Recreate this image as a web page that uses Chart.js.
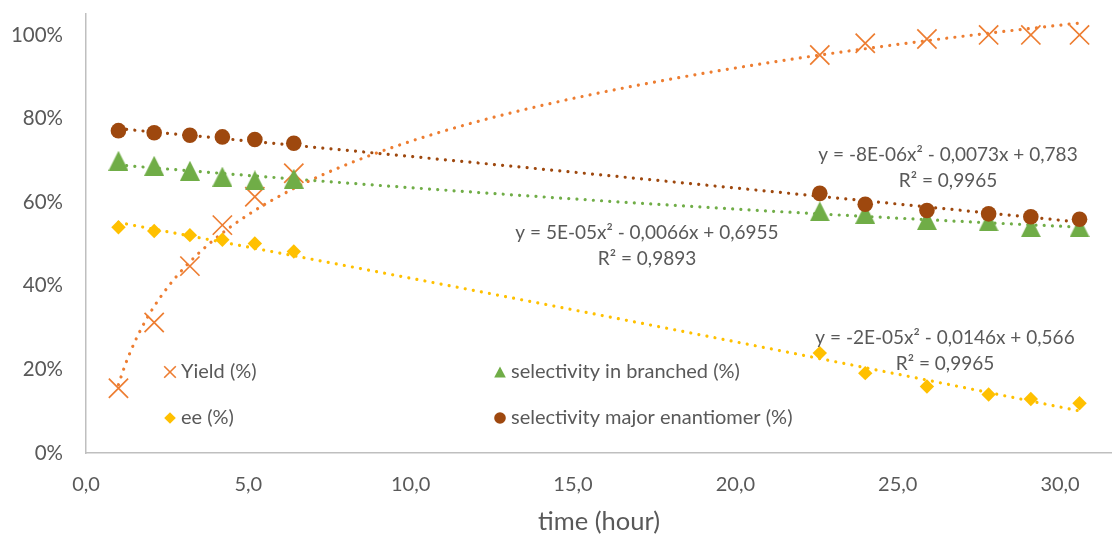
<!DOCTYPE html>
<html>
<head>
<meta charset="utf-8">
<script src="https://cdn.jsdelivr.net/npm/chart.js@4/dist/chart.umd.min.js"></script>
<style>
  html, body { margin: 0; padding: 0; background: #ffffff; }
  #c { display: block; }
</style>
</head>
<body>
<canvas id="c" width="1112" height="534"></canvas>
<script>
// Reaction monitoring: values in % against reaction time (hours)
const timeHours   = [1.0, 2.1, 3.2, 4.2, 5.2, 6.4, 22.6, 24.0, 25.9, 27.8, 29.1, 30.6];
const yieldPct    = [15.5, 31.2, 44.7, 54.5, 61.3, 66.9, 95.2, 98.0, 99.0, 100, 100, 100];
const branchedPct = [69.9, 68.7, 67.5, 66.1, 65.2, 65.6, 57.8, 57.2, 55.7, 55.4, 54.0, 54.0];
const eePct       = [54.0, 53.1, 52.1, 51.0, 50.1, 48.2, 23.9, 19.1, 15.9, 14.0, 12.9, 11.9];
const majorPct    = [77.1, 76.6, 76.0, 75.6, 75.0, 74.1, 62.1, 59.5, 58.0, 57.2, 56.5, 55.9];

const seriesNames = ['Yield (%)', 'selectivity in branched (%)', 'ee (%)', 'selectivity major enantiomer (%)'];
const xTicks = [0, 5, 10, 15, 20, 25, 30];
const yTicks = [0, 20, 40, 60, 80, 100];

// Quadratic trend lines, y (fraction) = c0 + c1*x + c2*x^2
const branchedFit = [0.6955, -0.0066, 5e-5];
const eeFit       = [0.566, -0.0146, -2e-5];
const majorFit    = [0.783, -0.0073, -8e-6];
const branchedEq  = ['y = 5E-05x\u00B2 - 0,0066x + 0,6955', 'R\u00B2 = 0,9893'];
const eeEq        = ['y = -2E-05x\u00B2 - 0,0146x + 0,566', 'R\u00B2 = 0,9965'];
const majorEq     = ['y = -8E-06x\u00B2 - 0,0073x + 0,783', 'R\u00B2 = 0,9965'];

const C_YIELD = '#ED7D31', C_BRANCH = '#70AD47', C_EE = '#FFC000', C_MAJOR = '#9E480E';
const TEXT = '#595959';
const FONT = 'Lato, "Open Sans", sans-serif';

const toPoints = (ys) => timeHours.map((t, i) => ({ x: t, y: ys[i] }));

// sample a fitted curve between the first and last time point
function sampleCurve(fn) {
  const a = timeHours[0], b = timeHours[timeHours.length - 1], n = 240;
  const pts = [];
  for (let i = 0; i <= n; i++) {
    const x = a + (b - a) * i / n;
    pts.push({ x, y: fn(x) * 100 });
  }
  return pts;
}
const quad = (c) => (x) => c[0] + c[1] * x + c[2] * x * x;

// logarithmic least-squares fit of the yield, y = a*ln(x) + b
function logFit(xs, ys) {
  const lx = xs.map(Math.log), fy = ys.map(v => v / 100);
  const n = xs.length;
  const mx = lx.reduce((s, v) => s + v, 0) / n;
  const my = fy.reduce((s, v) => s + v, 0) / n;
  let sxy = 0, sxx = 0;
  for (let i = 0; i < n; i++) { sxy += (lx[i] - mx) * (fy[i] - my); sxx += (lx[i] - mx) ** 2; }
  const a = sxy / sxx, b = my - a * mx;
  return (x) => a * Math.log(x) + b;
}

// triangle marker with its box centred on the point
function triangleImage(w, h, color) {
  const cv = document.createElement('canvas');
  cv.width = w; cv.height = h;
  const g = cv.getContext('2d');
  g.fillStyle = color;
  g.beginPath();
  g.moveTo(w / 2, 0);
  g.lineTo(w, h);
  g.lineTo(0, h);
  g.closePath();
  g.fill();
  return cv;
}

const trendStyle = (color) => ({
  showLine: true, pointRadius: 0, pointHoverRadius: 0, borderColor: color,
  borderWidth: 3.2, borderDash: [0.01, 8.2], borderCapStyle: 'round', fill: false, order: 10
});

// small markers for the in-plot legend
function legendMarker(ctx, kind, x, y) {
  ctx.save();
  if (kind === 'cross') {
    const d = 5.8;
    ctx.strokeStyle = C_YIELD; ctx.lineWidth = 1.6;
    ctx.beginPath();
    ctx.moveTo(x - d, y - d); ctx.lineTo(x + d, y + d);
    ctx.moveTo(x + d, y - d); ctx.lineTo(x - d, y + d);
    ctx.stroke();
  } else if (kind === 'triangle') {
    ctx.fillStyle = C_BRANCH;
    ctx.beginPath();
    ctx.moveTo(x, y - 5.5); ctx.lineTo(x + 5.8, y + 5.5); ctx.lineTo(x - 5.8, y + 5.5);
    ctx.closePath(); ctx.fill();
  } else if (kind === 'diamond') {
    const d = 5.8;
    ctx.fillStyle = C_EE;
    ctx.beginPath();
    ctx.moveTo(x, y - d); ctx.lineTo(x + d, y); ctx.lineTo(x, y + d); ctx.lineTo(x - d, y);
    ctx.closePath(); ctx.fill();
  } else {
    ctx.fillStyle = C_MAJOR;
    ctx.beginPath(); ctx.arc(x, y, 5.8, 0, Math.PI * 2); ctx.fill();
  }
  ctx.restore();
}

const overlay = {
  id: 'overlay',
  afterDatasetsDraw(chart) {
    const ctx = chart.ctx;
    ctx.save();
    ctx.fillStyle = TEXT;
    ctx.textBaseline = 'middle';

    // legend, two columns inside the plot
    ctx.font = '20px ' + FONT;
    const items = [
      { kind: 'cross',    name: seriesNames[0], x: 170, y: 372 },
      { kind: 'triangle', name: seriesNames[1], x: 500, y: 372 },
      { kind: 'diamond',  name: seriesNames[2], x: 170, y: 418 },
      { kind: 'circle',   name: seriesNames[3], x: 500, y: 418 }
    ];
    ctx.textAlign = 'left';
    items.forEach(it => {
      legendMarker(ctx, it.kind, it.x, it.y);
      ctx.fillStyle = TEXT;
      ctx.fillText(it.name, it.x + 11, it.y);
    });

    // trend line equations
    ctx.font = '19px ' + FONT;
    ctx.textAlign = 'center';
    const eqs = [
      { lines: majorEq,    x: 948, y: 155 },
      { lines: branchedEq, x: 647, y: 233 },
      { lines: eeEq,       x: 945, y: 338 }
    ];
    eqs.forEach(e => {
      ctx.fillText(e.lines[0], e.x, e.y);
      ctx.fillText(e.lines[1], e.x, e.y + 26);
    });
    ctx.restore();
  }
};

new Chart(document.getElementById('c'), {
  type: 'scatter',
  data: {
    datasets: [
      { label: seriesNames[0], data: toPoints(yieldPct), pointStyle: 'crossRot', pointRadius: 13.6,
        pointBorderWidth: 1.7, borderColor: C_YIELD, backgroundColor: C_YIELD, order: 4 },
      { label: seriesNames[1], data: toPoints(branchedPct), pointStyle: triangleImage(20, 20, C_BRANCH),
        pointRadius: 10, borderColor: C_BRANCH, backgroundColor: C_BRANCH, order: 3 },
      { label: seriesNames[2], data: toPoints(eePct), pointStyle: 'rectRot', pointRadius: 7.2,
        pointBorderWidth: 0, borderColor: C_EE, backgroundColor: C_EE, order: 2 },
      { label: seriesNames[3], data: toPoints(majorPct), pointStyle: 'circle', pointRadius: 7.8,
        pointBorderWidth: 0, borderColor: C_MAJOR, backgroundColor: C_MAJOR, order: 1 },
      Object.assign({ label: 'yield trend', data: sampleCurve(logFit(timeHours, yieldPct)) }, trendStyle(C_YIELD)),
      Object.assign({ label: 'branched trend', data: sampleCurve(quad(branchedFit)) }, trendStyle(C_BRANCH)),
      Object.assign({ label: 'ee trend', data: sampleCurve(quad(eeFit)) }, trendStyle(C_EE)),
      Object.assign({ label: 'major trend', data: sampleCurve(quad(majorFit)) }, trendStyle(C_MAJOR))
    ]
  },
  options: {
    responsive: false,
    animation: false,
    devicePixelRatio: 1,
    layout: { autoPadding: false, padding: { top: 14, right: 0, bottom: 0, left: 0 } },
    plugins: { legend: { display: false }, tooltip: { enabled: false } },
    events: [],
    scales: {
      x: {
        type: 'linear', min: 0, max: 31.6,
        afterBuildTicks: (s) => { s.ticks = xTicks.map(v => ({ value: v })); },
        afterFit: (s) => { s.height = 81; s.paddingLeft = 0; s.paddingRight = 0; },
        grid: { display: false, drawTicks: false },
        border: { display: true, color: '#BFBFBF', width: 1.5 },
        ticks: {
          padding: 20, color: TEXT, font: { family: FONT, size: 20 }, maxRotation: 0, autoSkip: false,
          callback: (v) => Number(v).toFixed(1).replace('.', ',')
        },
        title: { display: true, text: 'time (hour)', color: TEXT, font: { family: FONT, size: 25.5 },
                 padding: { top: 0, bottom: -3 } }
      },
      y: {
        type: 'linear', min: 0, max: 105,
        afterBuildTicks: (s) => { s.ticks = yTicks.map(v => ({ value: v })); },
        afterFit: (s) => { s.width = 86; s.paddingTop = 0; s.paddingBottom = 0; },
        grid: { display: false, drawTicks: false },
        border: { display: true, color: '#BFBFBF', width: 1.5 },
        ticks: { padding: 23, color: TEXT, font: { family: FONT, size: 20.5 }, callback: (v) => v + '%' }
      }
    }
  },
  plugins: [overlay]
});
</script>
</body>
</html>
